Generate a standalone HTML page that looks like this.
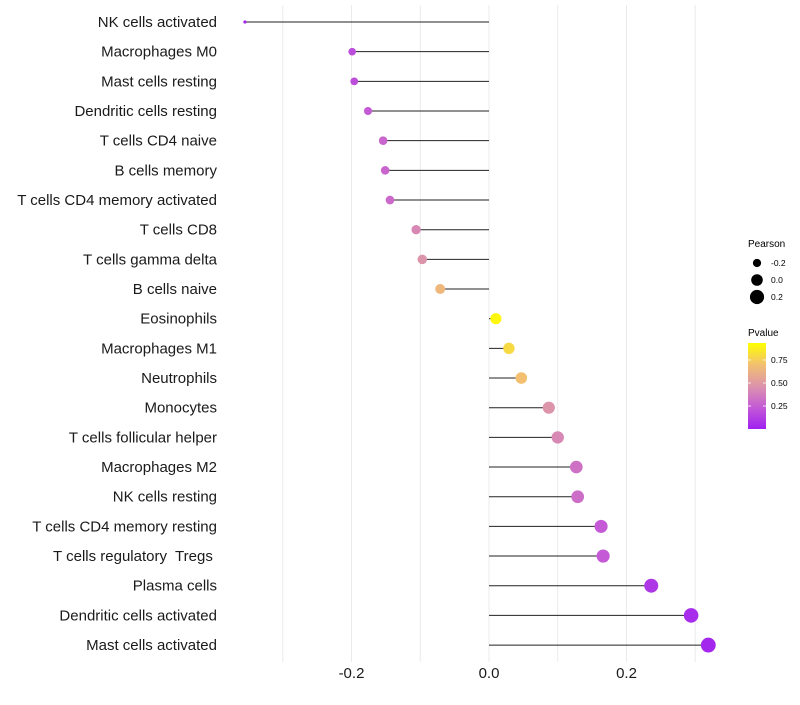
<!DOCTYPE html>
<html><head><meta charset="utf-8"><style>
body{margin:0;background:#fff;font-family:"Liberation Sans",sans-serif}
svg text{font-family:"Liberation Sans",sans-serif;white-space:pre}
</style></head><body>
<svg id="chart" width="800" height="700">
<g id="grid"></g>
<g id="marks"></g>
<g id="ylab"></g>
<g id="xlab"></g>
<g>
<text x="748" y="247" font-size="10" fill="#000">Pearson</text>
<g id="sizeleg"></g>
</g>
<g>
<text x="748" y="336" font-size="10" fill="#000">Pvalue</text>
<defs><linearGradient id="pg" x1="0" y1="1" x2="0" y2="0">
<stop offset="0" stop-color="#a020f0"/><stop offset="0.25" stop-color="#c45ad6"/><stop offset="0.5" stop-color="#dc94ab"/><stop offset="0.75" stop-color="#f2c070"/><stop offset="1" stop-color="#ffff00"/></linearGradient></defs>
<rect x="748" y="343" width="18" height="86" fill="url(#pg)"/>
<g id="colleg"></g>
</g>
</svg>
<script>
const cats=["NK cells activated","Macrophages M0","Mast cells resting","Dendritic cells resting","T cells CD4 naive","B cells memory","T cells CD4 memory activated","T cells CD8","T cells gamma delta","B cells naive","Eosinophils","Macrophages M1","Neutrophils","Monocytes","T cells follicular helper","Macrophages M2","NK cells resting","T cells CD4 memory resting","T cells regulatory  Tregs ","Plasma cells","Dendritic cells activated","Mast cells activated"];
const pearson=[-0.355,-0.199,-0.196,-0.176,-0.154,-0.151,-0.144,-0.106,-0.097,-0.071,0.010,0.029,0.047,0.087,0.100,0.127,0.129,0.163,0.166,0.236,0.294,0.319];
const pvalue=[0.02,0.2,0.2,0.25,0.3,0.3,0.32,0.45,0.5,0.7,0.97,0.85,0.75,0.5,0.45,0.35,0.33,0.25,0.25,0.1,0.05,0.03];
const xticks=[-0.2,0.0,0.2];
const sizeLegend=[-0.2,0.0,0.2];
const colTicks=[0.25,0.5,0.75];
const NS="http://www.w3.org/2000/svg";
const x=v=>489+v*687.5;
const y=i=>22+i*29.67;
const r=v=>1.06*Math.sqrt(Math.max(2,26.9+69.4*v));
const stops=[[0,[160,32,240]],[0.25,[196,90,214]],[0.5,[220,148,171]],[0.75,[242,192,112]],[1,[255,255,0]]];
function col(p){for(let i=1;i<stops.length;i++){if(p<=stops[i][0]){const a=stops[i-1],b=stops[i],t=(p-a[0])/(b[0]-a[0]);return `rgb(${a[1].map((c,k)=>Math.round(c+(b[1][k]-c)*t)).join(',')})`;}}return 'rgb(255,255,0)';}
function mk(t,at,parent){const e=document.createElementNS(NS,t);for(const k in at)e.setAttribute(k,at[k]);parent.appendChild(e);return e;}
const grid=document.getElementById('grid');
[-0.3,-0.2,-0.1,0,0.1,0.2,0.3].forEach(v=>{const l=mk('line',{x1:x(v),x2:x(v),y1:5,y2:662,stroke:'#ebebeb','stroke-width':1},grid);

});
const marks=document.getElementById('marks'),yl=document.getElementById('ylab'),xl=document.getElementById('xlab');
cats.forEach((c,i)=>{
const l=mk('line',{x1:x(0),x2:x(pearson[i]),y1:y(i),y2:y(i),stroke:'#222','stroke-width':1},marks);


const p=mk('circle',{cx:x(pearson[i]),cy:y(i),r:r(pearson[i]),fill:col(pvalue[i])},marks);


const t=mk('text',{x:217,y:y(i)+5,'text-anchor':'end','font-size':15,fill:'#1a1a1a'},yl);t.textContent=c;


});
xticks.forEach(v=>{const t=mk('text',{x:x(v),y:678,'text-anchor':'middle','font-size':15,fill:'#1a1a1a'},xl);t.textContent=v.toFixed(1);

});
const sl=document.getElementById('sizeleg');
sizeLegend.forEach((v,i)=>{const cy=263+i*17;
const c=mk('circle',{cx:757,cy:cy,r:r(v)+0.3,fill:'#000'},sl);


const t=mk('text',{x:771,y:cy+3,'font-size':8.5,fill:'#000'},sl);t.textContent=v.toFixed(1);

});
const cl=document.getElementById('colleg');
colTicks.forEach(v=>{const yy=429-92*v;
mk('line',{x1:748,x2:751,y1:yy,y2:yy,stroke:'#fff','stroke-width':0.8},cl);
mk('line',{x1:763,x2:766,y1:yy,y2:yy,stroke:'#fff','stroke-width':0.8},cl);
const t=mk('text',{x:771,y:yy+3,'font-size':8.5,fill:'#000'},cl);t.textContent=v.toFixed(2);

});
</script>
</body></html>
